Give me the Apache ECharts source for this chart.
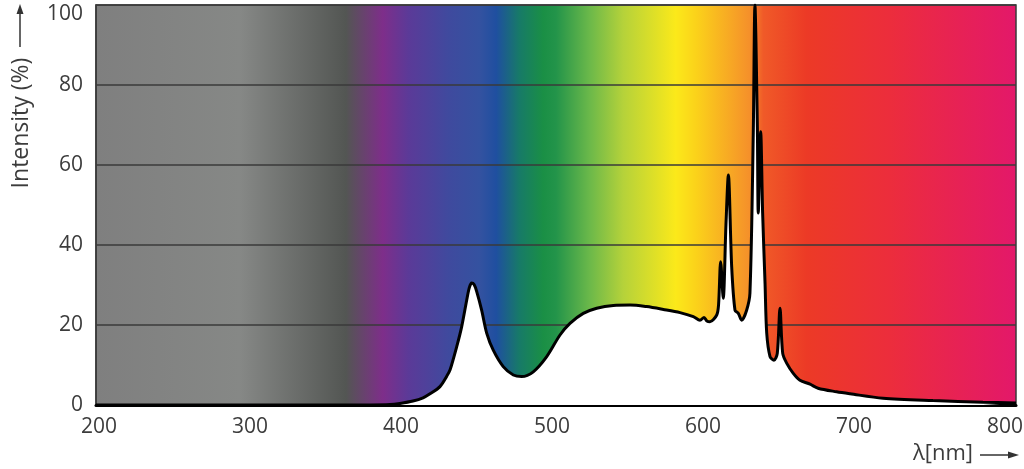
<!DOCTYPE html>
<html>
<head>
<meta charset="utf-8">
<script src="https://cdn.jsdelivr.net/npm/echarts@6/dist/echarts.min.js"></script>
<style>
  html, body { margin: 0; padding: 0; background: #fff; }
  #chart { width: 1024px; height: 469px; }
</style>
</head>
<body>
<div id="chart"></div>
<script>
// wavelength (nm) and relative intensity (%)
const wavelength = [198, 380, 392.7, 399.3, 407.9, 414.6, 419.2, 425.8, 430.3, 432.5, 436.9, 440.2, 443.5, 445.2, 446.8,
  448.4, 450.1, 453.4, 456.8, 461.1, 467.7, 474.4, 479.9, 487.6, 496.5, 505.3, 511.9, 520.7, 529.6, 540.6, 551.7,
  562.7, 573.7, 584.8, 593.6, 598, 600.7, 602.6, 604.6, 609.1, 610.3, 611.7, 613.4, 615.2, 616.8, 619,
  621.2, 623.4, 625.6, 628.9, 631.1, 633.3, 634.4, 636, 636.6, 638.2, 639.5, 641.1, 642.2, 644.4, 647,
  649.2, 651, 652.8, 655.5, 659.8, 664.2, 670.9, 676.2, 688.5, 697.4, 719.2, 752.3, 785.4, 807.3]
const intensity = [0, 0, 0.1, 0.4, 1.0, 1.8, 2.8, 4.6, 7.2, 8.8, 14.6, 19.6, 26.2, 29.3, 30.5,
  30.1, 28.4, 23.7, 17.9, 13.7, 9.6, 7.5, 7.1, 8.3, 12.1, 17.5, 20.4, 22.9, 24.2, 24.9, 25,
  24.6, 23.9, 23.1, 22.1, 21.2, 21.9, 21, 20.8, 22.5, 25, 35.8, 26.7, 45, 57.5, 34.6,
  23.7, 22.9, 21.2, 23.7, 28, 68, 100, 69.6, 48, 68.3, 48, 30.4, 18, 12.1, 11.2,
  12.9, 24.2, 12.9, 10.4, 7.9, 6.2, 5.2, 4.2, 3.3, 2.8, 1.7, 1.1, 0.7, 0.5]

const xTicks = [200, 300, 400, 500, 600, 700, 800]
const yTicks = [0, 20, 40, 60, 80, 100]

// spectrum background (fraction of plot width -> colour)
const spectrum = [
  [0, '#7f7f7f'], [0.157, '#868886'], [0.272, '#535653'], [0.312, '#7e2e8a'],
  [0.34, '#5b3a98'], [0.384, '#3f4a9e'], [0.417, '#3452a0'], [0.435, '#1f4fa0'],
  [0.46, '#177a68'], [0.486, '#1a8f45'], [0.5, '#23944a'], [0.536, '#6ab84a'],
  [0.573, '#b5d23a'], [0.63, '#fbe91a'], [0.652, '#fbd21a'], [0.71, '#f5902a'],
  [0.725, '#f05a28'], [0.772, '#ec3a26'], [0.862, '#ec2d3c'], [1, '#e3186a']
]

const font = '"Open Sans", "Noto Sans", sans-serif'
let myChart = echarts.init(document.getElementById('chart'))

let option = {
  backgroundColor: '#fff',
  animation: false,
  grid: {
    left: 96, right: 8, top: 5, bottom: 64,
    outerBoundsMode: 'none',
    show: true,
    borderColor: '#3a3a3a',
    borderWidth: 1.5,
    backgroundColor: new echarts.graphic.LinearGradient(0, 0, 1, 0,
      spectrum.map(s => ({ offset: s[0], color: s[1] })))
  },
  xAxis: {
    type: 'value',
    min: 198,
    max: 807.3,
    axisLine: { show: true, lineStyle: { color: '#000', width: 3 } },
    axisTick: { show: false },
    splitLine: { show: false },
    axisLabel: {
      customValues: xTicks,
      color: '#3c3c3c',
      fontSize: 21,
      fontFamily: font,
      margin: 12
    }
  },
  yAxis: {
    type: 'value',
    min: yTicks[0],
    max: yTicks[yTicks.length - 1],
    interval: 20,
    axisLine: { show: true, lineStyle: { color: '#3a3a3a', width: 1.5 } },
    axisTick: { show: false },
    splitLine: { show: true, lineStyle: { color: '#3a3a3a', width: 1.5 } },
    axisLabel: {
      color: '#3c3c3c',
      fontSize: 21,
      fontFamily: font,
      margin: 13,
      // top label sits lower so it stays inside the picture
      formatter: v => v === 100 ? '{top|100}' : String(v),
      rich: {
        top: { fontSize: 21, fontFamily: font, color: '#3c3c3c', padding: [18, 0, 0, 0] }
      }
    }
  },
  series: [{
    type: 'line',
    data: wavelength.map((w, i) => [w, intensity[i]]),
    smooth: 0.3,
    symbol: 'none',
    clip: true,
    lineStyle: { color: '#000', width: 3 },
    areaStyle: { color: '#fff', opacity: 1 }
  }],
  graphic: [
    // y axis title with arrow
    {
      type: 'text', x: 21, y: 123, rotation: Math.PI / 2,
      style: { text: 'Intensity (%)', fill: '#3c3c3c', fontSize: 23, fontFamily: font, align: 'center', verticalAlign: 'middle' }
    },
    { type: 'line', shape: { x1: 20, y1: 47, x2: 20, y2: 12 }, style: { stroke: '#333', lineWidth: 1.5 } },
    { type: 'polygon', shape: { points: [[16.5, 14], [23.5, 14], [20, 4]] }, style: { fill: '#333' } },
    // x axis title with arrow
    {
      type: 'text', x: 943, y: 454,
      style: { text: 'λ[nm]', fill: '#3c3c3c', fontSize: 22, fontFamily: font, align: 'center', verticalAlign: 'middle' }
    },
    { type: 'line', shape: { x1: 980, y1: 455, x2: 1010, y2: 455 }, style: { stroke: '#333', lineWidth: 1.5 } },
    { type: 'polygon', shape: { points: [[1008, 451.5], [1008, 458.5], [1019, 455]] }, style: { fill: '#333' } }
  ]
}

myChart.setOption(option)
</script>
</body>
</html>
